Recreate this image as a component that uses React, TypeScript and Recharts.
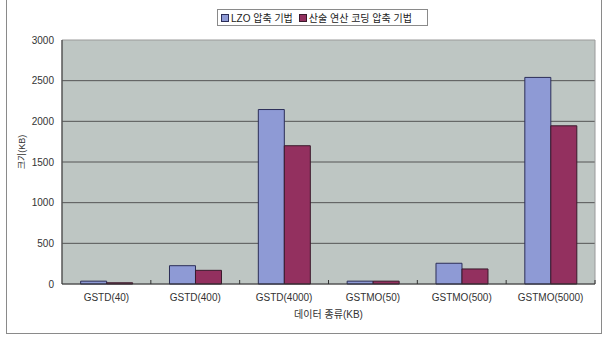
import React from "react";
import {
  BarChart,
  Bar,
  XAxis,
  YAxis,
  CartesianGrid,
  Legend,
  ReferenceArea,
} from "recharts";

// 데이터 (KB)
const categories = [
  "GSTD(40)",
  "GSTD(400)",
  "GSTD(4000)",
  "GSTMO(50)",
  "GSTMO(500)",
  "GSTMO(5000)",
];
const lzoValues = [35, 225, 2145, 35, 255, 2540];
const arithValues = [15, 168, 1700, 35, 185, 1945];
const yTicks = [0, 500, 1000, 1500, 2000, 2500, 3000];

const SERIES = [
  { key: "lzo", name: "LZO 압축 기법", fill: "#8e9ad5", stroke: "#2c2e58" },
  { key: "arith", name: "산술 연산 코딩 압축 기법", fill: "#93305f", stroke: "#3b1a2c" },
];

const data = categories.map((name, i) => ({
  name,
  lzo: lzoValues[i],
  arith: arithValues[i],
}));

const FONT = "'Liberation Sans', 'Noto Sans CJK KR', sans-serif";
const CHART_W = 594;
const CHART_H = 334;
// legend (17px) sits in the top margin, recharts adds its height to the offset
const MARGIN = { top: 24, right: 6, left: 15, bottom: 19 };
const Y_AXIS_W = 40;
const BAND = (CHART_W - MARGIN.left - MARGIN.right - Y_AXIS_W) / categories.length;

// Excel style: tick text under each category, small marks on category boundaries
function CategoryTick(props: any) {
  const { x, y, payload, index } = props;
  const base = y - 8;
  return (
    <g>
      {index > 0 && (
        <line x1={x - BAND / 2} x2={x - BAND / 2} y1={base - 4} y2={base} stroke="#333" />
      )}
      {index === categories.length - 1 && (
        <line x1={x + BAND / 2} x2={x + BAND / 2} y1={base - 4} y2={base} stroke="#333" />
      )}
      <text x={x} y={y + 9} textAnchor="middle" fontSize={10} fill="#333" fontFamily={FONT}>
        {payload.value}
      </text>
    </g>
  );
}

function LegendBox() {
  return (
    <div
      style={{
        border: "1px solid #8a8a8a",
        background: "#fff",
        height: 17,
        boxSizing: "border-box",
        display: "flex",
        alignItems: "center",
        padding: "0 3px",
        fontSize: 10,
        fontFamily: FONT,
        color: "#222",
        whiteSpace: "nowrap",
      }}
    >
      {SERIES.map((s, i) => (
        <span key={s.key} style={{ display: "flex", alignItems: "center", marginLeft: i ? 6 : 0 }}>
          <span
            style={{
              width: 6,
              height: 6,
              background: s.fill,
              border: `1px solid ${s.stroke}`,
              marginRight: 2,
              display: "inline-block",
            }}
          />
          {s.name}
        </span>
      ))}
    </div>
  );
}

export default function App() {
  return (
    <div
      style={{
        position: "fixed",
        left: 6,
        top: -2,
        width: CHART_W + 2,
        height: CHART_H + 2,
        border: "1px solid #8a8a8a",
        boxSizing: "border-box",
        background: "#fff",
      }}
    >
      <BarChart
        width={CHART_W}
        height={CHART_H}
        data={data}
        margin={MARGIN}
        barCategoryGap="21%"
        barGap={0}
      >
        <CartesianGrid
          vertical={false}
          fill="#bec6c3"
          stroke="#555"
          horizontalValues={[500, 1000, 1500, 2000, 2500]}
        />
        <ReferenceArea y1={0} y2={3000} fill="none" stroke="#9a9a9a" ifOverflow="visible" />
        <XAxis
          dataKey="name"
          interval={0}
          height={30}
          tickLine={false}
          axisLine={{ stroke: "#333" }}
          tick={<CategoryTick />}
          label={{
            value: "데이터 종류(KB)",
            position: "center",
            dy: 15,
            fontSize: 10,
            fill: "#333",
            fontFamily: FONT,
          }}
        />
        <YAxis
          width={Y_AXIS_W}
          domain={[0, 3000]}
          ticks={yTicks}
          interval={0}
          tickLine={false}
          axisLine={{ stroke: "#333" }}
          tick={{ fontSize: 10, fill: "#333", fontFamily: FONT }}
          label={{
            value: "크기(KB)",
            angle: -90,
            position: "center",
            dx: -20,
            dy: -10,
            fontSize: 9,
            fill: "#333",
            fontFamily: FONT,
          }}
        />
        <Legend
          verticalAlign="top"
          content={<LegendBox />}
          wrapperStyle={{ position: "absolute", top: 10, left: 210, width: 211 }}
        />
        {SERIES.map((s) => (
          <Bar
            key={s.key}
            dataKey={s.key}
            name={s.name}
            fill={s.fill}
            stroke={s.stroke}
            strokeWidth={1}
            isAnimationActive={false}
          />
        ))}
      </BarChart>
    </div>
  );
}
